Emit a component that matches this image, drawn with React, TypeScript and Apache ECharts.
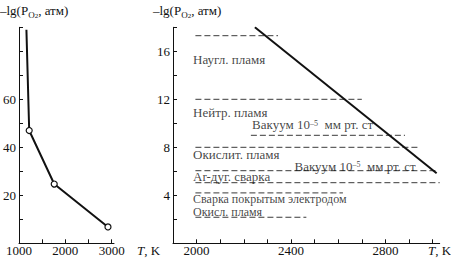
import React, { useEffect, useRef } from "react";
import * as echarts from "echarts";

// Left panel: curve points (T, K ; -lg P_O2)
const leftT = [1160, 1220, 1760, 2920];
const leftV = [89, 47, 24.7, 6.8];
const leftMarker = [false, true, true, true];

// Right panel: straight line
const rightT = [2247, 3017];
const rightV = [18, 5.83];

// Right panel: dashed levels
const levelV = [17.3, 12.0, 9.0, 8.0, 6.05, 5.05, 4.2, 2.17];
const levelStart = [1995, 1995, 2230, 1995, 1995, 1995, 1995, 1995];
const levelEnd = [2345, 2700, 2883, 2938, 3020, 3030, 2620, 2465];

// Right panel: annotations
const noteText = [
  "Наугл. пламя",
  "Нейтр. пламя",
  "Вакуум 10{sup|–5}  мм рт. ст",
  "Окислит. пламя",
  "Вакуум 10{sup|–5}  мм рт. ст",
  "Ar-дуг. сварка",
  "Сварка покрытым электродом",
  "Окисл. пламя",
];
const noteT = [1985, 1985, 2235, 1985, 2415, 1985, 1985, 1985];
const noteV = [15.35, 10.88, 9.9, 7.44, 6.44, 5.55, 3.69, 2.57];
const noteSize = [13, 13, 13, 13, 13, 13, 12, 12];

// Axis ticks and labels
const leftXTicks = [1500, 2000, 2500, 3000];
const leftXLabels = [1000, 2000, 3000];
const leftYTicks = [10, 20, 30, 40, 50, 60, 70, 80, 90];
const leftYLabels = [20, 40, 60];
const rightXTicks = [2000, 2100, 2200, 2300, 2400, 2500, 2600, 2700, 2800, 2900, 3000];
const rightXLabels = [2000, 2400, 2800];
const rightYTicks = [2, 4, 6, 8, 10, 12, 14, 16, 18];
const rightYLabels = [4, 8, 12, 16];

const FONT = "'Liberation Serif', 'Times New Roman', Times, serif";
const INK = "#111111";

export default function App() {
  const ref = useRef<HTMLDivElement>(null);
  useEffect(() => {
    if (!ref.current) return;
    const chart = echarts.init(ref.current, undefined, { renderer: "svg" });
    const axisCommon = {
      axisLine: { show: true, lineStyle: { color: INK, width: 1 } },
      splitLine: { show: false },
    };
    const plain = (v: number) => String(v);
    const xAxis = (grid: number, min: number, max: number, interval: number, ticks: number[], labels: number[]) => ({
      type: "value",
      gridIndex: grid,
      min,
      max,
      interval,
      ...axisCommon,
      axisTick: { show: true, inside: true, length: 4, customValues: ticks, lineStyle: { color: INK } },
      axisLabel: { show: true, customValues: labels, formatter: plain, margin: 1, fontFamily: FONT, fontSize: 13, color: INK },
    });
    const yAxis = (grid: number, max: number, interval: number, ticks: number[], labels: number[]) => ({
      type: "value",
      gridIndex: grid,
      min: 0,
      max,
      interval,
      ...axisCommon,
      axisTick: { show: true, inside: true, length: 4, customValues: ticks, lineStyle: { color: INK } },
      axisLabel: { show: true, customValues: labels, formatter: plain, margin: 3, fontFamily: FONT, fontSize: 13, color: INK },
    });

    const levelSeries = levelV.map((v, i) => ({
      type: "line",
      xAxisIndex: 1,
      yAxisIndex: 1,
      symbol: "none",
      silent: true,
      z: 1,
      lineStyle: { color: "#3a3a3a", width: 1, type: [6, 3] },
      data: [
        [levelStart[i], v],
        [levelEnd[i], v],
      ],
    }));

    const richText = {
      sup: { fontFamily: FONT, fontSize: 8, verticalAlign: "top", color: INK, lineHeight: 8 },
    };

    const nameText = (x: number) => ({
      type: "text",
      x,
      y: 2,
      style: {
        text: "{a|–lg(P}{s|O}{ss|2}{a|, атм)}",
        verticalAlign: "top",
        fill: INK,
        rich: {
          a: { fontFamily: FONT, fontSize: 13, lineHeight: 17, verticalAlign: "middle", fill: INK },
          s: { fontFamily: FONT, fontSize: 9, verticalAlign: "bottom", fill: INK },
          ss: { fontFamily: FONT, fontSize: 7, verticalAlign: "bottom", fill: INK },
        },
      },
    });
    const tkText = (x: number) => ({
      type: "text",
      x,
      y: 244,
      style: {
        text: "{i|T}{n|, K}",
        verticalAlign: "top",
        rich: {
          i: { fontFamily: FONT, fontSize: 13, fontStyle: "italic", fill: INK },
          n: { fontFamily: FONT, fontSize: 13, fill: INK },
        },
      },
    });

    chart.setOption({
      animation: false,
      backgroundColor: "#ffffff",
      grid: [
        { left: 17, top: 27.3, width: 97, height: 216 },
        { left: 173, top: 27.3, width: 266.7, height: 216 },
      ],
      xAxis: [
        xAxis(0, 1000, 3050, 500, leftXTicks, leftXLabels),
        xAxis(1, 1900, 3030, 100, rightXTicks, rightXLabels),
      ],
      yAxis: [
        yAxis(0, 90, 10, leftYTicks, leftYLabels),
        yAxis(1, 18, 2, rightYTicks, rightYLabels),
      ],
      graphic: [nameText(0), nameText(153), tkText(137), tkText(428)],
      series: [
        {
          type: "line",
          xAxisIndex: 0,
          yAxisIndex: 0,
          showSymbol: true,
          symbolSize: 6,
          itemStyle: { color: "#ffffff", borderColor: INK, borderWidth: 1.2 },
          lineStyle: { color: INK, width: 2 },
          z: 3,
          data: leftT.map((t, i) => ({
            value: [t, leftV[i]],
            symbol: leftMarker[i] ? "circle" : "none",
          })),
        },
        {
          type: "line",
          xAxisIndex: 1,
          yAxisIndex: 1,
          symbol: "none",
          lineStyle: { color: INK, width: 2 },
          z: 3,
          data: rightT.map((t, i) => [t, rightV[i]]),
        },
        ...levelSeries,
        {
          type: "scatter",
          xAxisIndex: 1,
          yAxisIndex: 1,
          symbolSize: 0,
          silent: true,
          z: 4,
          label: {
            show: true,
            position: "right",
            distance: 0,
            fontFamily: FONT,
            fontSize: 13,
            lineHeight: 11,
            color: INK,
            formatter: (p: any) => noteText[p.dataIndex],
            rich: richText,
          },
          data: noteT.map((t, i) => ({
            value: [t, noteV[i]],
            label: { fontSize: noteSize[i] },
          })),
        },
      ],
    });
    return () => chart.dispose();
  }, []);
  return (
    <div
      ref={ref}
      style={{ position: "fixed", left: 0, top: 0, width: 451, height: 259, background: "#fff" }}
    />
  );
}
